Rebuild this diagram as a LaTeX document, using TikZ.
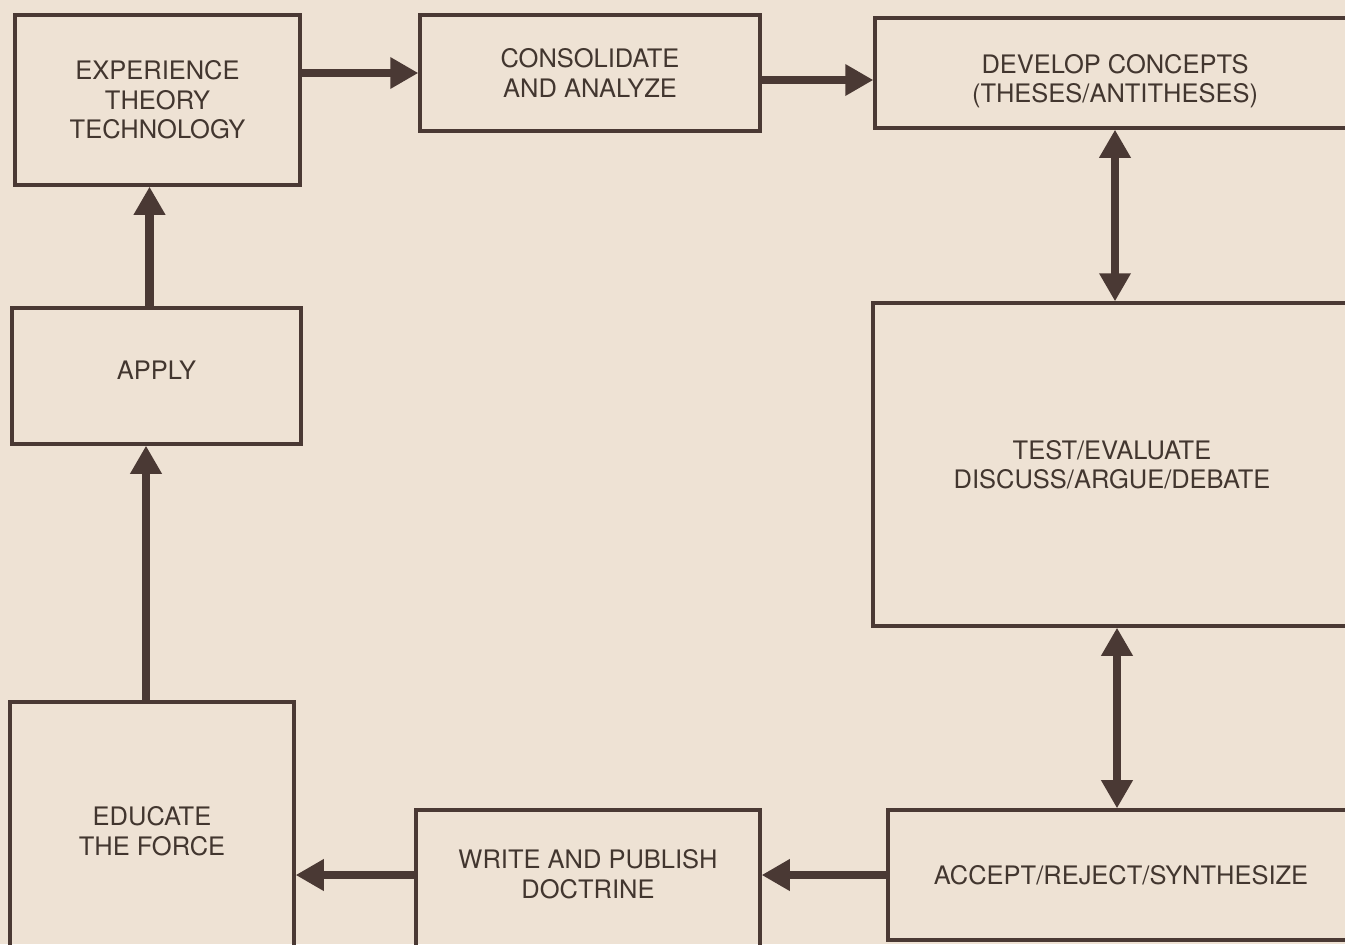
\documentclass[tikz,border=0pt]{standalone}
\usepackage{fontspec}
\setmainfont{TeX Gyre Heros}
\usepackage{tikz}
\usetikzlibrary{shapes.geometric, arrows.meta}

\definecolor{paper}{HTML}{EEE2D4}
\definecolor{ink}{HTML}{4A3934}
\definecolor{print}{HTML}{42362F}

\begin{document}
\begin{tikzpicture}[x=0.02cm, y=-0.02cm]
    \tikzstyle{stage} = [rectangle, draw=ink, line width=1.9pt, text=print, align=center, font=\fontsize{14.5}{16.8}\selectfont]
\tikzstyle{arrow} = [draw=ink, line width=4.8pt, -{Triangle[length=16pt,width=17pt]}]
\tikzstyle{twoway} = [draw=ink, line width=4.8pt, {Triangle[length=16pt,width=17pt]}-{Triangle[length=16pt,width=17pt]}]
    \useasboundingbox (0,0) rectangle (1345,944);
\fill[paper] (0,0) rectangle (1345,944);
\clip (0,0) rectangle (1345,944);

\node (exp) [stage, minimum width=5.70cm, minimum height=3.40cm] at (157.5,100) {EXPERIENCE\\THEORY\\TECHNOLOGY};
\node (cons) [stage, minimum width=6.80cm, minimum height=2.32cm] at (590,73) {CONSOLIDATE\\AND ANALYZE};
\node (dev) [stage, minimum width=9.60cm, minimum height=2.20cm, text height=1.29cm] at (1115,73) {DEVELOP CONCEPTS\\(THESES/ANTITHESES)};
\node (apply) [stage, minimum width=5.78cm, minimum height=2.72cm, text depth=0.24cm] at (156.5,376) {APPLY};
\node (test) [stage, minimum width=9.56cm, minimum height=6.46cm] at (1112,464.5) {TEST/EVALUATE\\DISCUSS/ARGUE/DEBATE};
\node (accept) [stage, minimum width=9.32cm, minimum height=2.60cm] at (1121,875) {ACCEPT/REJECT/SYNTHESIZE};
\node (write) [stage, minimum width=6.88cm, minimum height=3.00cm, text depth=0.44cm] at (588,885) {WRITE AND PUBLISH\\DOCTRINE};
\node (educate) [stage, minimum width=5.68cm, minimum height=5.16cm] at (152,831) {EDUCATE\\THE FORCE};

\draw[arrow] (exp.east |- cons.west) -- (cons.west);
\draw[arrow] ([yshift=-0.14cm]cons.east) -- ([yshift=-0.14cm]cons.east -| dev.west);
\draw[twoway] (dev.south) -- (dev.south |- test.north);
\draw[twoway] ([xshift=0.1cm]test.south) -- ([xshift=0.1cm]test.south |- accept.north);

  \draw[arrow] (accept.west) -- (accept.west -| write.east);
\draw[arrow] (accept.west -| write.west) -- (accept.west -| educate.east);
\draw[arrow] ([xshift=-0.12cm]educate.north) -- ([xshift=-0.12cm]educate.north |- apply.south);
\draw[arrow] ([xshift=-0.14cm]apply.north) -- ([xshift=-0.14cm]apply.north |- exp.south);
  \end{tikzpicture}
\end{document}
